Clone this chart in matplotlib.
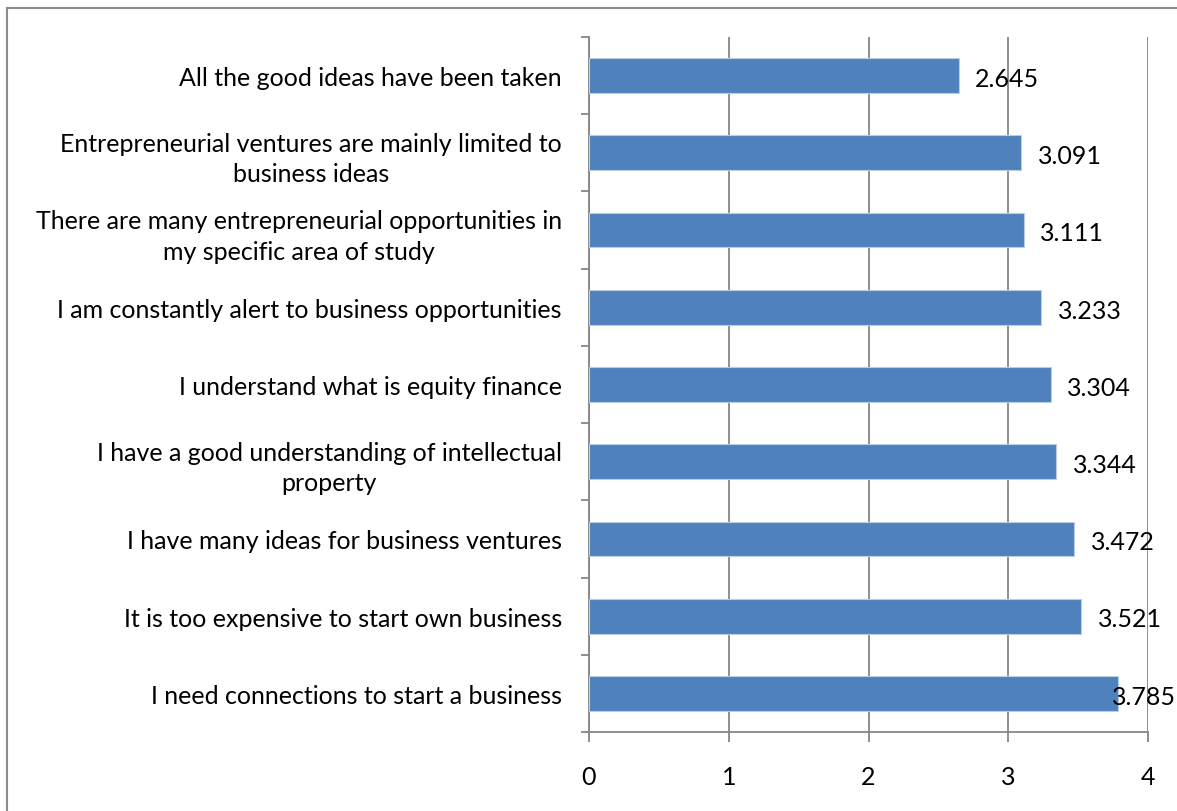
import matplotlib
matplotlib.use("Agg")
import matplotlib.pyplot as plt
from matplotlib.patches import Rectangle
import numpy as np

plt.rcParams["font.family"] = ["Lato", "DejaVu Sans"]

# statements, bottom to top as they appear on the axis
statements = [
    "I need connections to start a business",
    "It is too expensive to start own business",
    "I have many ideas for business ventures",
    "I have a good understanding of intellectual\nproperty",
    "I understand what is equity finance",
    "I am constantly alert to business opportunities",
    "There are many entrepreneurial opportunities in\nmy specific area of study",
    "Entrepreneurial ventures are mainly limited to\nbusiness ideas",
    "All the good ideas have been taken",
]
mean_scores = [3.785, 3.521, 3.472, 3.344, 3.304, 3.233, 3.111, 3.091, 2.645]
x_ticks = [0, 1, 2, 3, 4]

bar_color = "#4F81BD"
grid_color = "#868686"
fs = 18

fig = plt.figure(figsize=(11.77, 8.12), dpi=100)
ax = fig.add_axes([589 / 1177, 1 - 733 / 812, (1148 - 589) / 1177, (733 - 38) / 812])

y = np.arange(len(statements))
bars = ax.barh(y, mean_scores, height=0.45, color=bar_color,
               edgecolor="#B9CDE5", linewidth=0.8, zorder=3)

ax.set_xlim(0, 4)
ax.set_ylim(-0.5, len(statements) - 0.5)
ax.set_xticks(x_ticks)
ax.set_xticklabels([str(t) for t in x_ticks], fontsize=fs)
ax.tick_params(axis="x", length=7, width=1.3, color=grid_color, pad=17)

ax.set_yticks(y)
ax.set_yticklabels(statements, fontsize=fs, multialignment="center",
                   linespacing=1.4)
ax.tick_params(axis="y", which="major", length=0, pad=19.5)
ax.set_yticks(np.arange(-0.5, len(statements), 1.0), minor=True)
ax.tick_params(axis="y", which="minor", length=6, width=1.3, color=grid_color)

ax.grid(axis="x", color=grid_color, linewidth=1.3, zorder=0)
for side in ["top", "right"]:
    ax.spines[side].set_visible(False)
for side in ["left", "bottom"]:
    ax.spines[side].set_color(grid_color)
    ax.spines[side].set_linewidth(1.3)

# value labels just past each bar end, kept inside the figure
fig.canvas.draw()
renderer = fig.canvas.get_renderer()
for bar, val in zip(bars, mean_scores):
    cy = bar.get_y() + bar.get_height() / 2
    t = ax.annotate(f"{val:.3f}", xy=(val, cy), xytext=(12, -2),
                    textcoords="offset points", ha="left", va="center",
                    fontsize=fs, zorder=4)
    bb = t.get_window_extent(renderer)
    fig_w = fig.bbox.width
    if bb.x1 > fig_w:
        t.set_position((12 - (bb.x1 - fig_w + 1) * 72 / fig.dpi, -2))

# chart-area frame
fig.patches.append(Rectangle((7 / 1177, -0.1), 1.2, 1 - 9 / 812 + 0.1,
                             transform=fig.transFigure, fill=False,
                             edgecolor="#8C8C8C", linewidth=1.5))

fig.savefig("out.png", dpi=100)
